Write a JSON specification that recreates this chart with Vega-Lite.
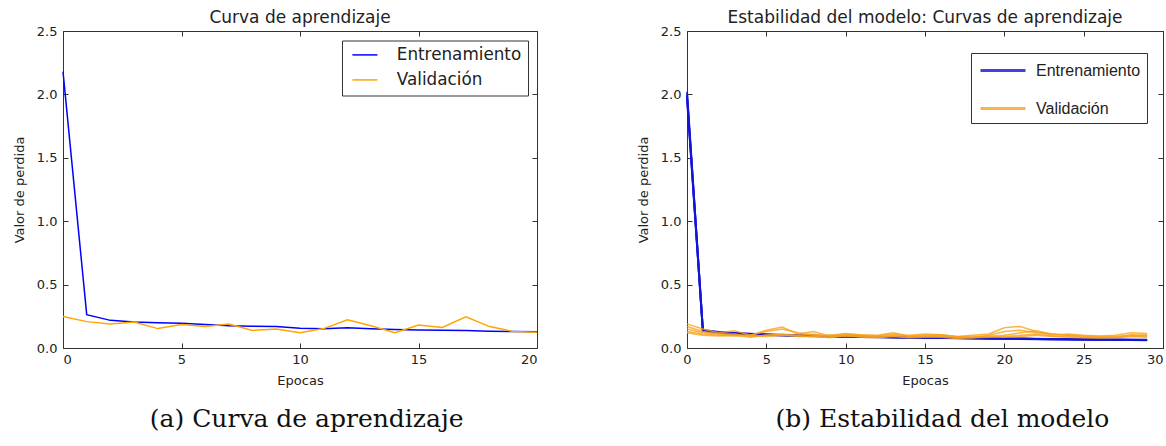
{
  "$schema": "https://vega.github.io/schema/vega-lite/v6.json",
  "padding": {"left": 12, "top": 8, "right": 0, "bottom": 0},
  "background": "white",
  "config": {
    "font": "DejaVu Sans",
    "view": {"stroke": "#333", "strokeWidth": 1},
    "axis": {"grid": false, "domain": false, "tickColor": "#333", "tickSize": -5, "tickWidth": 1,
      "labelPadding": 11, "labelFont": "DejaVu Sans", "labelFontSize": 13, "labelColor": "#222",
      "titleFont": "DejaVu Sans", "titleFontSize": 13, "titleFontWeight": "normal", "titleColor": "#222"},
    "axisX": {"labelPadding": 10},
    "title": {"font": "DejaVu Sans", "fontSize": 17, "fontWeight": "normal", "color": "#222"},
    "concat": {"spacing": 95}
  },
  "resolve": {"scale": {"color": "independent"}, "legend": {"color": "independent"}},
  "hconcat": [
    {
      "title": {"text": "(a) Curva de aprendizaje", "orient": "bottom", "anchor": "middle", "dx": 30, "font": "DejaVu Serif", "fontSize": 25, "fontWeight": "normal", "color": "#111", "offset": 19},
      "vconcat": [
        {
          "width": 474, "height": 317,
          "title": {"text": "Curva de aprendizaje", "offset": -2},
          "data": {"values": [
            {"ep": 0, "s": "Entrenamiento", "v": 2.18}, {"ep": 1, "s": "Entrenamiento", "v": 0.263}, {"ep": 2, "s": "Entrenamiento", "v": 0.218},
            {"ep": 3, "s": "Entrenamiento", "v": 0.205}, {"ep": 4, "s": "Entrenamiento", "v": 0.2}, {"ep": 5, "s": "Entrenamiento", "v": 0.195},
            {"ep": 6, "s": "Entrenamiento", "v": 0.185}, {"ep": 7, "s": "Entrenamiento", "v": 0.176}, {"ep": 8, "s": "Entrenamiento", "v": 0.172},
            {"ep": 9, "s": "Entrenamiento", "v": 0.17}, {"ep": 10, "s": "Entrenamiento", "v": 0.155}, {"ep": 11, "s": "Entrenamiento", "v": 0.152},
            {"ep": 12, "s": "Entrenamiento", "v": 0.16}, {"ep": 13, "s": "Entrenamiento", "v": 0.152}, {"ep": 14, "s": "Entrenamiento", "v": 0.145},
            {"ep": 15, "s": "Entrenamiento", "v": 0.142}, {"ep": 16, "s": "Entrenamiento", "v": 0.14}, {"ep": 17, "s": "Entrenamiento", "v": 0.138},
            {"ep": 18, "s": "Entrenamiento", "v": 0.132}, {"ep": 19, "s": "Entrenamiento", "v": 0.13}, {"ep": 20, "s": "Entrenamiento", "v": 0.128},
            {"ep": 0, "s": "Validación", "v": 0.248}, {"ep": 1, "s": "Validación", "v": 0.208}, {"ep": 2, "s": "Validación", "v": 0.19},
            {"ep": 3, "s": "Validación", "v": 0.205}, {"ep": 4, "s": "Validación", "v": 0.153}, {"ep": 5, "s": "Validación", "v": 0.185},
            {"ep": 6, "s": "Validación", "v": 0.17}, {"ep": 7, "s": "Validación", "v": 0.19}, {"ep": 8, "s": "Validación", "v": 0.139},
            {"ep": 9, "s": "Validación", "v": 0.15}, {"ep": 10, "s": "Validación", "v": 0.121}, {"ep": 11, "s": "Validación", "v": 0.153},
            {"ep": 12, "s": "Validación", "v": 0.222}, {"ep": 13, "s": "Validación", "v": 0.176}, {"ep": 14, "s": "Validación", "v": 0.121},
            {"ep": 15, "s": "Validación", "v": 0.182}, {"ep": 16, "s": "Validación", "v": 0.162}, {"ep": 17, "s": "Validación", "v": 0.246},
            {"ep": 18, "s": "Validación", "v": 0.169}, {"ep": 19, "s": "Validación", "v": 0.13}, {"ep": 20, "s": "Validación", "v": 0.124}
          ]},
          "layer": [
            {
              "transform": [{"filter": {"field": "s", "equal": "Entrenamiento"}}],
              "mark": {"type": "line", "strokeWidth": 1.5},
              "encoding": {
                "x": {"field": "ep", "type": "quantitative", "scale": {"domain": [0, 20], "nice": false},
                  "axis": {"values": [0, 5, 10, 15, 20], "title": "Epocas", "titlePadding": 8}},
                "y": {"field": "v", "type": "quantitative", "scale": {"domain": [0, 2.5], "nice": false},
                  "axis": {"values": [0, 0.5, 1, 1.5, 2, 2.5], "format": ".1f", "title": "Valor de perdida", "titlePadding": 10}},
                "color": {"field": "s", "type": "nominal",
                  "scale": {"domain": ["Entrenamiento", "Validación"], "range": ["#0000ff", "#ffa500"]},
                  "legend": {"title": null, "orient": "none", "legendX": 279, "legendY": 9.5, "strokeColor": "#333", "fillColor": "white",
                    "padding": 6, "rowPadding": 7, "symbolType": "M-0.57,0H3.0", "symbolSize": 196, "symbolStrokeWidth": 1.5,
                    "labelFont": "DejaVu Sans", "labelFontSize": 16.8, "labelColor": "#222", "labelOffset": 32, "cornerRadius": 0}}
              }
            },
            {
              "transform": [{"filter": {"field": "s", "equal": "Validación"}}],
              "mark": {"type": "line", "strokeWidth": 1.5},
              "encoding": {
                "x": {"field": "ep", "type": "quantitative", "axis": {"orient": "top", "values": [0, 5, 10, 15, 20], "labels": false, "title": null}},
                "y": {"field": "v", "type": "quantitative", "axis": {"orient": "right", "values": [0, 0.5, 1, 1.5, 2, 2.5], "labels": false, "title": null}},
                "color": {"field": "s", "type": "nominal"}
              }
            }
          ],
          "resolve": {"axis": {"x": "independent", "y": "independent"}}
        }
      ]
    },
    {
      "title": {"text": "(b) Estabilidad del modelo", "orient": "bottom", "anchor": "middle", "dx": 42, "font": "DejaVu Serif", "fontSize": 25, "fontWeight": "normal", "color": "#111", "offset": 19},
      "vconcat": [
        {
          "width": 476, "height": 317,
          "title": {"text": "Estabilidad del modelo: Curvas de aprendizaje", "offset": -2},
          "data": {"values": [
            {"ep": 0, "t1": 2.02, "t2": 1.97, "t3": 2.0, "t4": 1.99, "v1": 0.19, "v2": 0.17, "v3": 0.15, "v4": 0.13, "v5": 0.12},
            {"ep": 1, "t1": 0.14, "t2": 0.135, "t3": 0.138, "t4": 0.142, "v1": 0.15, "v2": 0.13, "v3": 0.12, "v4": 0.11, "v5": 0.1},
            {"ep": 2, "t1": 0.125, "t2": 0.12, "t3": 0.122, "t4": 0.127, "v1": 0.12, "v2": 0.11, "v3": 0.11, "v4": 0.1, "v5": 0.095},
            {"ep": 3, "t1": 0.117, "t2": 0.112, "t3": 0.115, "t4": 0.119, "v1": 0.135, "v2": 0.1, "v3": 0.11, "v4": 0.095, "v5": 0.1},
            {"ep": 4, "t1": 0.11, "t2": 0.106, "t3": 0.108, "t4": 0.112, "v1": 0.1, "v2": 0.1, "v3": 0.09, "v4": 0.1, "v5": 0.085},
            {"ep": 5, "t1": 0.106, "t2": 0.102, "t3": 0.104, "t4": 0.107, "v1": 0.14, "v2": 0.13, "v3": 0.1, "v4": 0.09, "v5": 0.1},
            {"ep": 6, "t1": 0.102, "t2": 0.098, "t3": 0.1, "t4": 0.103, "v1": 0.165, "v2": 0.15, "v3": 0.11, "v4": 0.1, "v5": 0.105},
            {"ep": 7, "t1": 0.099, "t2": 0.095, "t3": 0.097, "t4": 0.1, "v1": 0.11, "v2": 0.12, "v3": 0.1, "v4": 0.095, "v5": 0.09},
            {"ep": 8, "t1": 0.096, "t2": 0.092, "t3": 0.094, "t4": 0.097, "v1": 0.13, "v2": 0.1, "v3": 0.11, "v4": 0.09, "v5": 0.095},
            {"ep": 9, "t1": 0.093, "t2": 0.09, "t3": 0.092, "t4": 0.095, "v1": 0.09, "v2": 0.1, "v3": 0.085, "v4": 0.1, "v5": 0.08},
            {"ep": 10, "t1": 0.091, "t2": 0.088, "t3": 0.09, "t4": 0.092, "v1": 0.11, "v2": 0.115, "v3": 0.1, "v4": 0.09, "v5": 0.1},
            {"ep": 11, "t1": 0.089, "t2": 0.086, "t3": 0.088, "t4": 0.09, "v1": 0.105, "v2": 0.1, "v3": 0.095, "v4": 0.09, "v5": 0.085},
            {"ep": 12, "t1": 0.087, "t2": 0.084, "t3": 0.086, "t4": 0.088, "v1": 0.1, "v2": 0.09, "v3": 0.095, "v4": 0.085, "v5": 0.08},
            {"ep": 13, "t1": 0.085, "t2": 0.082, "t3": 0.084, "t4": 0.086, "v1": 0.12, "v2": 0.1, "v3": 0.11, "v4": 0.095, "v5": 0.09},
            {"ep": 14, "t1": 0.083, "t2": 0.081, "t3": 0.082, "t4": 0.085, "v1": 0.095, "v2": 0.1, "v3": 0.09, "v4": 0.085, "v5": 0.08},
            {"ep": 15, "t1": 0.082, "t2": 0.079, "t3": 0.081, "t4": 0.083, "v1": 0.1, "v2": 0.11, "v3": 0.095, "v4": 0.09, "v5": 0.085},
            {"ep": 16, "t1": 0.08, "t2": 0.078, "t3": 0.079, "t4": 0.081, "v1": 0.105, "v2": 0.105, "v3": 0.1, "v4": 0.095, "v5": 0.085},
            {"ep": 17, "t1": 0.079, "t2": 0.076, "t3": 0.078, "t4": 0.08, "v1": 0.09, "v2": 0.09, "v3": 0.085, "v4": 0.08, "v5": 0.075},
            {"ep": 18, "t1": 0.077, "t2": 0.075, "t3": 0.076, "t4": 0.078, "v1": 0.1, "v2": 0.08, "v3": 0.09, "v4": 0.085, "v5": 0.08},
            {"ep": 19, "t1": 0.076, "t2": 0.073, "t3": 0.075, "t4": 0.077, "v1": 0.11, "v2": 0.1, "v3": 0.095, "v4": 0.09, "v5": 0.085},
            {"ep": 20, "t1": 0.074, "t2": 0.072, "t3": 0.073, "t4": 0.075, "v1": 0.16, "v2": 0.13, "v3": 0.1, "v4": 0.085, "v5": 0.09},
            {"ep": 21, "t1": 0.073, "t2": 0.071, "t3": 0.072, "t4": 0.074, "v1": 0.17, "v2": 0.14, "v3": 0.12, "v4": 0.09, "v5": 0.1},
            {"ep": 22, "t1": 0.071, "t2": 0.069, "t3": 0.07, "t4": 0.072, "v1": 0.13, "v2": 0.12, "v3": 0.135, "v4": 0.1, "v5": 0.11},
            {"ep": 23, "t1": 0.07, "t2": 0.068, "t3": 0.069, "t4": 0.071, "v1": 0.1, "v2": 0.11, "v3": 0.11, "v4": 0.09, "v5": 0.095},
            {"ep": 24, "t1": 0.069, "t2": 0.067, "t3": 0.068, "t4": 0.07, "v1": 0.11, "v2": 0.1, "v3": 0.1, "v4": 0.085, "v5": 0.09},
            {"ep": 25, "t1": 0.068, "t2": 0.066, "t3": 0.067, "t4": 0.069, "v1": 0.1, "v2": 0.095, "v3": 0.09, "v4": 0.08, "v5": 0.085},
            {"ep": 26, "t1": 0.067, "t2": 0.065, "t3": 0.066, "t4": 0.068, "v1": 0.095, "v2": 0.09, "v3": 0.085, "v4": 0.08, "v5": 0.08},
            {"ep": 27, "t1": 0.066, "t2": 0.064, "t3": 0.065, "t4": 0.067, "v1": 0.1, "v2": 0.09, "v3": 0.085, "v4": 0.08, "v5": 0.085},
            {"ep": 28, "t1": 0.065, "t2": 0.063, "t3": 0.064, "t4": 0.066, "v1": 0.12, "v2": 0.1, "v3": 0.105, "v4": 0.09, "v5": 0.095},
            {"ep": 29, "t1": 0.064, "t2": 0.062, "t3": 0.063, "t4": 0.065, "v1": 0.115, "v2": 0.1, "v3": 0.1, "v4": 0.085, "v5": 0.09}
          ]},
          "layer": [
            {
              "transform": [{"fold": ["t1", "t2", "t3", "t4"], "as": ["run", "val"]}],
              "mark": {"type": "line", "strokeWidth": 2, "opacity": 0.85},
              "encoding": {
                "x": {"field": "ep", "type": "quantitative", "scale": {"domain": [0, 30], "nice": false},
                  "axis": {"values": [0, 5, 10, 15, 20, 25, 30], "title": "Epocas", "titlePadding": 8,
                    "labelAlign": {"condition": {"test": "datum.value == 30", "value": "right"}, "value": "center"}}},
                "y": {"field": "val", "type": "quantitative", "scale": {"domain": [0, 2.5], "nice": false},
                  "axis": {"values": [0, 0.5, 1, 1.5, 2, 2.5], "format": ".1f", "title": "Valor de perdida", "titlePadding": 10}},
                "detail": {"field": "run"},
                "color": {"datum": "Entrenamiento", "type": "nominal",
                  "scale": {"domain": ["Entrenamiento", "Validación"], "range": ["#1414d8", "#f7a21b"]},
                  "legend": {"title": null, "orient": "none", "legendX": 284, "legendY": 22, "strokeColor": "#333", "fillColor": "white",
                    "padding": 6, "rowPadding": 18, "symbolType": "M-0.8,0H3.7", "symbolSize": 400, "symbolStrokeWidth": 3, "symbolOpacity": 1,
                    "labelFont": "Liberation Sans", "labelFontSize": 16, "labelColor": "#222", "labelOffset": 36, "cornerRadius": 0}}
              }
            },
            {
              "transform": [{"fold": ["v1", "v2", "v3", "v4", "v5"], "as": ["run", "val"]}],
              "mark": {"type": "line", "strokeWidth": 1.5, "opacity": 0.8},
              "encoding": {
                "x": {"field": "ep", "type": "quantitative", "axis": {"orient": "top", "values": [0, 5, 10, 15, 20, 25, 30], "labels": false, "title": null}},
                "y": {"field": "val", "type": "quantitative", "axis": {"orient": "right", "values": [0, 0.5, 1, 1.5, 2, 2.5], "labels": false, "title": null}},
                "detail": {"field": "run"},
                "color": {"datum": "Validación", "type": "nominal"}
              }
            }
          ],
          "resolve": {"axis": {"x": "independent", "y": "independent"}}
        }
      ]
    }
  ]
}
